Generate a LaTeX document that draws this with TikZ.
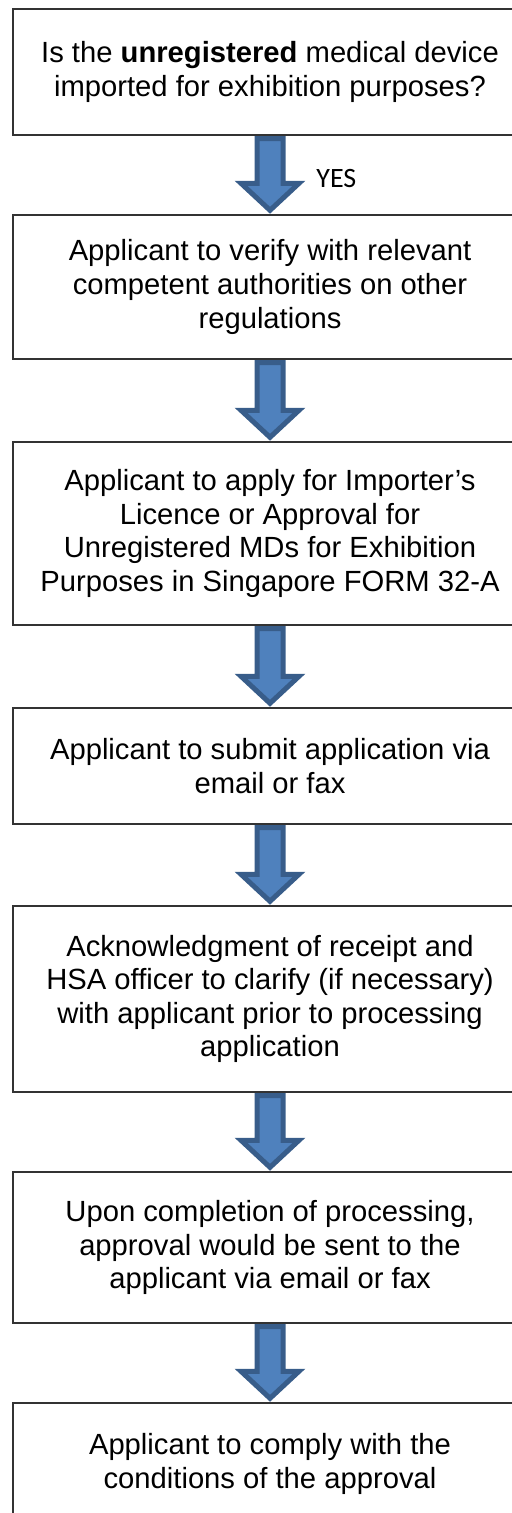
\documentclass[tikz,border=0pt]{standalone}
\usepackage{fontspec}
\setmainfont{Liberation Sans}
\newfontfamily\yesfont{Carlito}
\usetikzlibrary{calc}

\definecolor{arrowfill}{HTML}{4F81BD}
\definecolor{arrowline}{HTML}{385D8A}

\tikzset{
    stepbox/.style = {draw=black!80, line width=0.7pt, fill=white, minimum width=257pt,
                      inner sep=0pt, align=center, font=\fontsize{14.6}{16.8}\selectfont},
    downarrow/.style = {fill=arrowfill, draw=arrowline, line width=2.5pt, line join=miter}
}

% fat block arrow from the bottom of one box to the top of the next
\newcommand{\blockdown}[2]{%
    \draw [downarrow] ($(#1.south)+(-13,3)$) -- ($(#2.north)+(-13,-31)$) -- ($(#2.north)+(-29,-31)$)
        -- ($(#2.north)+(0,-4)$) -- ($(#2.north)+(29,-31)$) -- ($(#2.north)+(13,-31)$)
        -- ($(#1.south)+(13,3)$) -- cycle;
}

\begin{document}
\begin{tikzpicture}[x=0.5pt, y=-0.5pt]
    \useasboundingbox (0,0) rectangle (512,1513);
    \clip (0,0) rectangle (512,1513);

    \node [stepbox, minimum height=63pt] (q) at (270,72)
        {Is the \textbf{unregistered} medical device\\imported for exhibition purposes?};
    \node [stepbox, minimum height=72pt] (verify) at (270,287)
        {Applicant to verify with relevant\\competent authorities on other\\regulations};
    \node [stepbox, minimum height=91.5pt] (apply) at (270,533.5)
        {Applicant to apply for Importer’s\\Licence or Approval for\\Unregistered MDs for Exhibition\\Purposes in Singapore FORM 32-A};
    \node [stepbox, minimum height=58pt] (submit) at (270,766)
        {Applicant to submit application via\\email or fax};
    \node [stepbox, minimum height=93pt] (ack) at (270,999)
        {Acknowledgment of receipt and\\HSA officer to clarify (if necessary)\\with applicant prior to processing\\application};
    \node [stepbox, minimum height=75.5pt] (done) at (270,1247.5)
        {Upon completion of processing,\\approval would be sent to the\\applicant via email or fax};
    \node [stepbox, minimum height=61pt] (comply) at (270,1464)
        {Applicant to comply with the\\conditions of the approval};

    \blockdown{q}{verify}
    \blockdown{verify}{apply}
    \blockdown{apply}{submit}
    \blockdown{submit}{ack}
    \blockdown{ack}{done}
    \blockdown{done}{comply}

    \node [anchor=west, inner sep=0pt, font=\yesfont\fontsize{14}{16}\selectfont] (yes) at (316,179) {YES};
\end{tikzpicture}
\end{document}
